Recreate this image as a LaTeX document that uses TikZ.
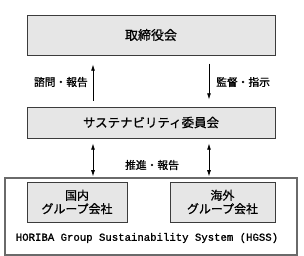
\documentclass[tikz,border=0pt]{standalone}
\usepackage{fontspec}
\usepackage{tikz}
\usetikzlibrary{arrows.meta,calc,positioning}
\newfontfamily\jpfont[FakeBold=0.8]{Noto Sans CJK JP}
\newfontfamily\hgssfont[FakeBold=1.2]{Liberation Mono}
\definecolor{boxfill}{HTML}{E6E6E6}
\definecolor{boxline}{HTML}{3C3C3C}
\definecolor{outerline}{HTML}{6A6A6A}
\tikzset{
  >={Latex[length=2.2mm,width=1.4mm]},
  flow/.style={->,thick,draw=black},
  bothflow/.style={<->,thick,draw=black},
  orgbox/.style={draw=boxline,fill=boxfill,line width=1pt,align=center,
                 inner sep=0pt,font=\jpfont\fontsize{12.5}{14}\selectfont},
  groupbox/.style={orgbox,minimum width=100bp,minimum height=40bp,
                   font=\jpfont\fontsize{12}{13.5}\selectfont},
  outer/.style={draw=outerline,line width=1.2pt,fill=white},
  lab/.style={font=\jpfont\fontsize{10.8}{12}\selectfont,inner sep=0pt}
}
\begin{document}
\begin{tikzpicture}[x=1bp,y=-1bp]
  \useasboundingbox[fill=white] (0,0) rectangle (304,256);
  % board and committee
  \node[orgbox,minimum width=248bp,minimum height=40bp,font=\jpfont\fontsize{13}{14}\selectfont] (board) at (151,35) {取締役会};
  \node[orgbox,minimum width=248bp,minimum height=31bp] (comm) at (151,122.5) {サステナビリティ委員会};
  % HGSS frame with group companies
  \node[outer,minimum width=292bp,minimum height=77bp,inner sep=0pt] (hgss) at (151,216.5) {};
  \node[groupbox] (dom) at (77,202) {国内\\グループ会社};
  \node[groupbox,minimum width=105bp] (ovs) at (222.5,202) {海外\\グループ会社};
  \node[font=\hgssfont\fontsize{10.7}{12}\selectfont,inner sep=0pt] (hgsslab) at (147,238) {HORIBA Group Sustainability System (HGSS)};
  % connectors
  \coordinate (lx) at (93,0);
  \coordinate (rx) at (209,0);
  \draw[flow,shorten <=6bp,shorten >=9bp] (comm.north -| lx) -- (board.south -| lx);
  \draw[flow,shorten <=8bp,shorten >=7bp] (board.south -| rx) -- (comm.north -| rx);
  \draw[bothflow,shorten <=5bp,shorten >=1bp] (comm.south -| lx) -- (hgss.north -| lx);
  \draw[bothflow,shorten <=5bp,shorten >=1bp] (comm.south -| rx) -- (hgss.north -| rx);
  \node[lab,anchor=east] (ask) at (88,82) {諮問・報告};
  \node[lab,anchor=west] (sup) at (216,82) {監督・指示};
  \node[lab] (prom) at (152,165) {推進・報告};
\end{tikzpicture}
\end{document}
